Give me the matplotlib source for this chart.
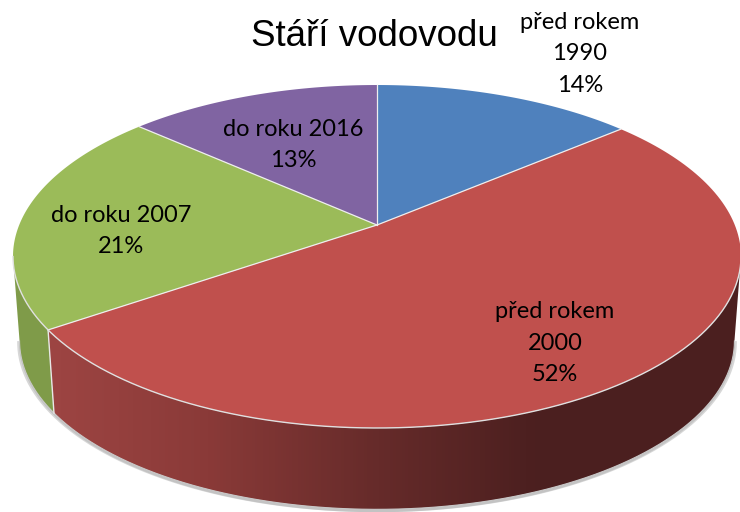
#!/usr/bin/python
import numpy as np
import matplotlib
matplotlib.use('Agg')
import matplotlib.pyplot as plt
from matplotlib.colors import LinearSegmentedColormap
from matplotlib.patches import Polygon

# data
categories = ["před rokem\n1990", "před rokem\n2000", "do roku 2007", "do roku 2016"]
shares = [13.8, 51.6, 21.2, 13.4]
colors = ['#4f81bd', '#c0504d', '#9bbb59', '#8064a2']
title = "Stáří vodovodu"

# where the labels sit, in pixels of the picture
label_pos = [(580, 54), (555, 343), (121, 231), (293, 145)]

# pie geometry (a tilted disc seen in perspective)
CX, CY = 377.0, 225.0
A, B, K = 357.8, 165.7, 0.1837
SCALE, DROP = 0.982, 85.0


def project(theta, shrink=1.0, drop=0.0):
    # theta in degrees, clockwise from the top
    t = np.radians(theta)
    x, y = np.sin(t), np.cos(t)
    w = 1 + K * y
    return CX + shrink * A * x / w, CY + drop - shrink * B * y / w


def rim(t0, t1):
    t = np.linspace(t0, t1, 120)
    xt, yt = project(t)
    xb, yb = project(t[::-1], SCALE, DROP)
    return np.column_stack([np.r_[xt, xb], np.r_[yt, yb]])


fig = plt.figure(figsize=(7.40, 5.12), dpi=100)
ax = fig.add_axes([0, 0, 1, 1])

bounds = np.r_[0, np.cumsum(shares)] / np.sum(shares) * 360
# the rim shows between the two points where the disc is widest
RIM_LEFT, RIM_RIGHT = 100.6, 259.4

# soft shadow below the rim
t = np.linspace(RIM_LEFT, RIM_RIGHT, 200)
xb, yb = project(t, SCALE, DROP)
ax.plot(xb + 1, yb + 1.5, color='#b0b0b0', lw=2, alpha=0.5, zorder=1)
ax.plot(xb - 1, yb + 1.5, color='#b0b0b0', lw=2, alpha=0.5, zorder=1)

# red rim, shaded from left to right
red_cmap = LinearSegmentedColormap.from_list(
    'redrim', [(0, '#a04846'), (0.08, '#9c4442'), (0.28, '#8a3a38'),
               (0.51, '#662b2a'), (0.73, '#4b1f1f'), (1, '#4b1f1f')])
patch = Polygon(rim(RIM_LEFT, bounds[2]), closed=True, fc='none', ec='none', zorder=2)
ax.add_patch(patch)
im = ax.imshow(np.linspace(0, 1, 740)[None, :], extent=[0, 740, 512, 0], aspect='auto',
               cmap=red_cmap, vmin=0, vmax=1, zorder=2)
im.set_clip_path(patch)

# green rim
ax.add_patch(Polygon(rim(bounds[2], RIM_RIGHT), closed=True, fc='#7f9b49', ec='none', zorder=2))
ax.plot(xb, yb, color='#c8c8c8', lw=0.8, zorder=3)
x0, y0 = project(bounds[2])
x1, y1 = project(bounds[2], SCALE, DROP)
ax.plot([x0, x1], [y0, y1], color='#e8e8e8', lw=1.0, zorder=3)

# top face
for i, c in enumerate(colors):
    tt = np.linspace(bounds[i], bounds[i + 1], 150)
    xs, ys = project(tt)
    ax.add_patch(Polygon(np.column_stack([np.r_[CX, xs], np.r_[CY, ys]]), closed=True,
                         fc=c, ec='none', zorder=4))

# thin light lines between the slices and along the front edge
for b in bounds[:-1]:
    xs, ys = project(b)
    ax.plot([CX, xs], [CY, ys], color='#eeeeee', lw=0.9, zorder=4.5)
xs, ys = project(t)
ax.plot(xs, ys, color='#e0e0e0', lw=1.0, zorder=4.5)

# labels
for cat, val, (lx, ly) in zip(categories, shares, label_pos):
    ax.text(lx, ly, "%s\n%d%%" % (cat, round(val)), ha='center', va='center', color='black',
            family='Lato', fontsize=17, linespacing=1.62, zorder=5)

ax.text(374, 37, title, ha='center', va='center', color='black',
        family='Liberation Sans', fontsize=26.5, zorder=5)

ax.set_xlim(0, 740)
ax.set_ylim(512, 0)
ax.axis('off')
fig.savefig('out.png', dpi=100, facecolor='white')
